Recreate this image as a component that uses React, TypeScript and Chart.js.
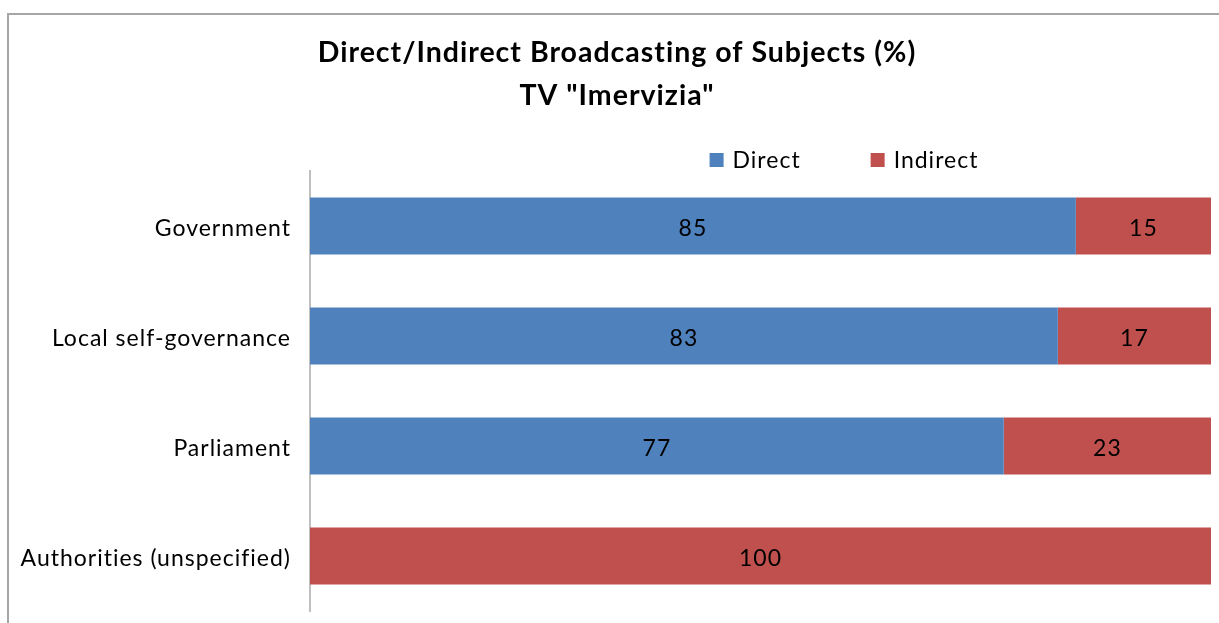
import React, { useEffect, useRef } from "react";
import { Chart, registerables } from "chart.js";

Chart.register(...registerables);

const categories = ["Government", "Local self-governance", "Parliament", "Authorities (unspecified)"];
const directValues = [85, 83, 77, 0];
const indirectValues = [15, 17, 23, 100];
const seriesNames = ["Direct", "Indirect"];
const titleLines = ["Direct/Indirect Broadcasting of Subjects (%)", 'TV "Imervizia"'];

const BLUE = "#4F81BD";
const RED = "#C0504D";
const FONT = "Lato, 'Open Sans', sans-serif";
const TEXT_SIZE = 23;

const spacingPlugin = {
  id: "letterSpacing",
  beforeUpdate(chart: any) {
    chart.ctx.letterSpacing = "1px";
  },
  afterLayout(chart: any) {
    // centre the title over the original (wider) chart frame
    if (chart.titleBlock) chart.titleBlock.left = 23;
  },
  beforeDraw(chart: any) {
    chart.ctx.letterSpacing = "1px";
  },
};

const dataLabelPlugin = {
  id: "dataLabels",
  afterDatasetsDraw(chart: any) {
    const ctx = chart.ctx;
    ctx.save();
    ctx.font = `${TEXT_SIZE}px ${FONT}`;
    ctx.fillStyle = "#000";
    ctx.textAlign = "center";
    ctx.textBaseline = "middle";
    chart.data.datasets.forEach((ds: any, di: number) => {
      const meta = chart.getDatasetMeta(di);
      meta.data.forEach((bar: any, i: number) => {
        const v = ds.data[i];
        if (!v) return;
        const p = bar.getProps(["x", "y", "base"], true);
        ctx.fillText(String(v), (p.x + p.base) / 2, p.y + 3);
      });
    });
    ctx.restore();
  },
};

const legendPlugin = {
  id: "customLegend",
  afterDraw(chart: any) {
    const ctx = chart.ctx;
    ctx.save();
    ctx.font = `${TEXT_SIZE}px ${FONT}`;
    ctx.textBaseline = "middle";
    const box = 14;
    const gapBoxText = 9;
    const itemGap = 70;
    const items = chart.data.datasets.map((ds: any) => ({
      label: ds.label,
      color: ds.backgroundColor,
      w: ctx.measureText(ds.label).width,
    }));
    const total = items.reduce((s: number, it: any) => s + box + gapBoxText + it.w, 0) + itemGap * (items.length - 1);
    const cx = 844;
    const cy = 160;
    let x = cx - total / 2;
    items.forEach((it: any) => {
      ctx.fillStyle = it.color;
      ctx.fillRect(x, cy - box / 2, box, box);
      x += box + gapBoxText;
      ctx.fillStyle = "#000";
      ctx.textAlign = "left";
      ctx.fillText(it.label, x, cy + 1);
      x += it.w + itemGap;
    });
    ctx.restore();
  },
};

export default function App() {
  const ref = useRef<HTMLCanvasElement | null>(null);
  useEffect(() => {
    if (!ref.current) return;
    const chart = new Chart(ref.current, {
      type: "bar",
      data: {
        labels: categories,
        datasets: [
          { label: seriesNames[0], data: directValues, backgroundColor: BLUE, categoryPercentage: 1, barPercentage: 0.52 },
          { label: seriesNames[1], data: indirectValues, backgroundColor: RED, categoryPercentage: 1, barPercentage: 0.52 },
        ],
      },
      options: {
        indexAxis: "y",
        animation: false,
        responsive: false,
        maintainAspectRatio: false,
        layout: { padding: { left: 0, right: 23, top: 0, bottom: 12 } },
        scales: {
          x: { stacked: true, min: 0, max: 100, display: false },
          y: {
            stacked: true,
            grid: { display: false, drawTicks: false },
            border: { display: true, color: "#BFBFBF", width: 2 },
            ticks: { font: { family: FONT, size: TEXT_SIZE }, color: "#000", padding: 19, labelOffset: 3 },
            afterFit: (scale: any) => {
              scale.width = 310;
              scale.paddingTop = 0;
              scale.paddingBottom = 0;
            },
          },
        },
        plugins: {
          legend: { display: false },
          tooltip: { enabled: false },
          title: {
            display: true,
            text: titleLines,
            color: "#000",
            font: { family: FONT, size: 28.5, weight: "bold", lineHeight: 43 / 28.5 },
            padding: { top: 31, bottom: 54 },
          },
        },
      },
      plugins: [spacingPlugin, dataLabelPlugin, legendPlugin],
    });
    return () => chart.destroy();
  }, []);

  return (
    <div style={{ position: "fixed", left: 0, top: 0, width: 1219, height: 623, overflow: "hidden", background: "#fff" }}>
      <div
        style={{
          position: "absolute",
          left: 7,
          top: 13,
          width: 1300,
          height: 700,
          border: "2px solid #A6A6A6",
        }}
      />
      <canvas ref={ref} width={1234} height={623} style={{ position: "absolute", left: 0, top: 0, width: 1234, height: 623 }} />
    </div>
  );
}
